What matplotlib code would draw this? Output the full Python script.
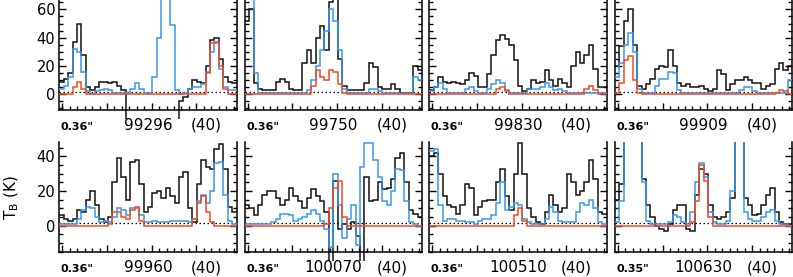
import matplotlib

matplotlib.use("Agg")  # headless
import matplotlib.pyplot as plt
from matplotlib.ticker import MultipleLocator, NullFormatter
from matplotlib.transforms import Bbox, TransformedBbox

plt.rcParams["font.family"] = ["DejaVu Sans"]
plt.rcParams["mathtext.default"] = "regular"

# ---- panel labels (frequency in MHz, beam size, velocity width) ----
freqs = ["99296", "99750", "99830", "99909", "99960", "100070", "100510", "100630"]
beams = ['0.36"', '0.36"', '0.36"', '0.36"', '0.36"', '0.36"', '0.36"', '0.35"']
widths = ["(40)", "(40)", "(40)", "(40)", "(40)", "(40)", "(40)", "(40)"]

# ---- spectra: 40 channels per panel, T_B in K ----
# black = observed, blue = full model, red = species model
obs_99296 = [9, 11, 15, 37, 50, 28, 5, 3, 5, 9, 9, 8, 9, 6, 3, -40, -40, -40, -40, -40,
             -40, -40, -40, -40, -40, -40, -40, -5, -2, 4, 10, 9, 8, 20, 38, 40, 25, 12, 9, 8]
blue_99296 = [4, 6, 12, 32, 30, 16, 2, 0, 2, 3, 4, 3, 1, 1, 1, 1, 4, 8, 4, 1,
              1, 12, 40, 90, 90, 49, 3, 0, 1, 4, 5, 5, 7, 16, 30, 36, 18, 5, 3, 3]
red_99296 = [0, 0, 0, 5, 9, 4, 0, 0, 0, 0, 0, 0, 0, 0, 0, 0, 0, 0, 0, 0,
             0, 0, 0, 0, 0, 0, 0, 0, 0, 0, 0, 0, 0, 15, 36, 37, 20, 4, 0, 0]

obs_99750 = [52, 60, 8, 4, 3, 3, 3, 9, 11, 9, 4, 3, 3, 22, 31, 22, 40, 48, 31, 65,
             70, 25, 6, 3, 3, 3, 3, 8, 22, 19, 5, 4, 4, 7, 4, 1, 1, 1, 20, 17]
blue_99750 = [80, 80, 15, 1, 1, 1, 1, 1, 1, 1, 1, 1, 1, 1, 3, 10, 20, 31, 45, 60,
              52, 31, 4, 1, 1, 1, 1, 1, 4, 4, 2, 1, 1, 1, 1, 1, 1, 1, 12, 10]
red_99750 = [0, 0, 0, 0, 0, 0, 0, 0, 0, 0, 0, 0, 0, 0, 0, 6, 17, 12, 10, 17,
             16, 7, 1, 0, 0, 0, 0, 0, 0, 0, 0, 0, 0, 0, 0, 0, 0, 0, 0, 0]

obs_99830 = [3, 5, 12, 9, 8, 9, 8, 7, 10, 15, 13, 5, 5, 14, 28, 38, 42, 39, 35, 24,
             6, 2, 4, 10, 8, 9, 17, 10, 6, 11, 8, 5, 20, 30, 22, 28, 35, 18, 5, 5]
blue_99830 = [2, 5, 8, 4, 1, 1, 1, 1, 4, 5, 2, 1, 1, 4, 7, 10, 8, 3, 1, 1,
              1, 1, 4, 4, 4, 5, 8, 5, 3, 4, 2, 1, 1, 1, 1, 1, 1, 1, 1, 1]
red_99830 = [0, 0, 0, 0, 0, 0, 0, 0, 0, 0, 0, 0, 0, 0, 0, 4, 5, 2, 0, 0,
             0, 0, 0, 0, 0, 0, 0, 0, 0, 0, 0, 0, 0, 0, 0, 4, 6, 3, 0, 0]

obs_99909 = [20, 34, 52, 60, 35, 6, 4, 7, 11, 18, 20, 19, 31, 20, 8, 6, 7, 5, 5, 6,
             4, 2, 4, 17, 14, 3, 7, 10, 10, 12, 10, 8, 8, 4, 6, 7, 18, 22, 17, 20]
blue_99909 = [12, 22, 35, 43, 30, 4, 1, 1, 1, 6, 11, 11, 16, 15, 3, 1, 1, 1, 1, 1,
              1, 1, 1, 1, 1, 1, 1, 1, 3, 5, 5, 2, 1, 1, 1, 1, 1, 1, 1, 10]
red_99909 = [1, 8, 24, 27, 10, 1, 0, 0, 0, 0, 0, 0, 0, 0, 0, 0, 0, 0, 0, 0,
             0, 0, 0, 0, 0, 0, 0, 0, 0, 0, 0, 0, 0, 0, 0, 0, 1, 3, 2, 0]

obs_99960 = [6, 4, 3, 4, 9, 8, 15, 20, 12, 4, 2, 5, 25, 39, 28, 15, 37, 38, 24, 8,
             11, 19, 20, 16, 22, 17, 13, 28, 31, 10, 2, 24, 38, 34, 33, 44, 47, 33, 11, 8]
blue_99960 = [1, 1, 1, 1, 4, 9, 11, 10, 5, 2, 3, 2, 5, 10, 9, 6, 10, 10, 6, 2,
              2, 3, 2, 2, 2, 3, 3, 3, 3, 2, 4, 14, 18, 13, 20, 36, 37, 18, 3, 1]
red_99960 = [0, 0, 0, 0, 0, 0, 0, 0, 0, 0, 0, 1, 8, 8, 5, 4, 9, 11, 3, 0,
             0, 0, 0, 0, 0, 0, 0, 0, 0, 0, 4, 13, 17, 8, 2, 0, 0, 0, 0, 0]

obs_100070 = [12, 10, 6, 12, 18, 20, 20, 16, 12, 15, 22, 17, 14, 10, 16, 21, 17, 14, 8, -40,
              26, -2, 1, -2, 2, -6, -40, 28, 14, 15, 25, 21, 22, 27, 39, 42, 25, 9, 7, 5]
blue_100070 = [1, 1, 1, 1, 1, 1, 2, 4, 7, 7, 6, 3, 4, 5, 7, 9, 7, 3, -2, -12,
               30, 12, -7, 4, 12, -11, 34, 48, 48, 38, 28, 14, 12, 20, 33, 32, 14, 2, 1, 0]
red_100070 = [0, 0, 0, 0, 0, 0, 0, 0, 0, 0, 0, 0, 0, 0, 0, 0, 0, 0, 1, 10,
              22, 26, 5, 0, 0, 0, 0, 0, 0, 0, 0, 0, 0, 0, 0, 0, 0, 0, 0, 0]

obs_100510 = [40, 42, 30, 17, 12, 11, 7, 12, 24, 22, 6, 11, 14, 15, 15, 25, 33, 17, 9, 30,
              48, 30, 10, 5, 2, 1, 8, 18, 12, 8, 10, 30, 25, 18, 20, 25, 38, 27, 8, 7]
blue_100510 = [43, 44, 12, 3, 4, 4, 3, 3, 2, 2, 1, 3, 4, 4, 6, 13, 25, 9, 11, 13,
               12, 4, 2, 1, 1, 1, 4, 11, 8, 3, 2, 2, 2, 8, 13, 12, 15, 10, 2, 1]
red_100510 = [0, 0, 0, 0, 0, 0, 0, 0, 0, 0, 0, 0, 0, 0, 0, 0, 0, 0, 0, 6,
              10, 3, 0, 0, 0, 0, 0, 0, 0, 0, 0, 0, 0, 0, 0, 0, 0, 0, 0, 0]

obs_100630 = [15, 24, 60, 60, 60, 60, 27, 12, 5, 0, -2, -3, 1, 9, 12, 12, -2, -3, 18, 33,
              30, 12, 5, 4, 5, 8, 16, 60, 60, 16, 12, 6, 7, 12, 18, 22, 8, 2, 1, 1]
blue_100630 = [2, 14, 60, 60, 60, 60, 25, 3, 1, 1, 1, 1, 2, 6, 5, 2, 1, 8, 25, 36,
               28, 8, 2, 1, 1, 3, 20, 60, 60, 8, 4, 3, 3, 5, 8, 9, 3, 1, 1, 0]
red_100630 = [0, 0, 0, 0, 0, 0, 0, 0, 0, 0, 0, 0, 0, 0, 0, 0, 0, 2, 14, 35,
              26, 5, 0, 0, 0, 0, 0, 0, 0, 0, 0, 0, 0, 0, 0, 0, 0, 0, 0, 0]

obs_all = [obs_99296, obs_99750, obs_99830, obs_99909,
           obs_99960, obs_100070, obs_100510, obs_100630]
blue_all = [blue_99296, blue_99750, blue_99830, blue_99909,
            blue_99960, blue_100070, blue_100510, blue_100630]
red_all = [red_99296, red_99750, red_99830, red_99909,
           red_99960, red_100070, red_100510, red_100630]

DOTTED_LEVEL = 1.8          # dotted reference level (K)
X_MIN, X_MAX = -0.4, 23.4   # velocity axis
YLIM_TOP = (-11.1, 66.6)
YLIM_BOT = (-15.3, 48.3)

BLACK = "#111111"
BLUE = "#3797f2"
RED = "#f24a1e"

W, H = 793, 277
fig = plt.figure(figsize=(W / 100, H / 100), dpi=100)

lefts_px = [59.3, 244.7, 429.3, 615.0]
width_px = 177.3
rows_px = [(0.0, 110.0), (142.0, 252.3)]
CLIP_BELOW = 9.0   # lines run a few px below the box

n_chan = len(obs_99296)
step = (X_MAX - X_MIN) / n_chan
edges = [X_MIN + i * step for i in range(n_chan + 1)]

for k in range(8):
    row, col = divmod(k, 4)
    y0, y1 = rows_px[row]
    l = lefts_px[col]
    ax = fig.add_axes([l / W, 1 - y1 / H, width_px / W, (y1 - y0) / H])
    ax.set_xlim(X_MIN, X_MAX)
    ax.set_ylim(YLIM_TOP if row == 0 else YLIM_BOT)

    clip = TransformedBbox(
        Bbox.from_extents(l / W, 1 - (y1 + CLIP_BELOW) / H,
                          (l + width_px) / W, 1 - y0 / H),
        fig.transFigure)

    ax.axhline(DOTTED_LEVEL, color="black", lw=0.9, ls=(0, (1.2, 2.0)), zorder=1)
    for vals, colr, z in ((obs_all[k], BLACK, 2), (blue_all[k], BLUE, 3),
                          (red_all[k], RED, 4)):
        art = ax.stairs(vals, edges, baseline=None, color=colr, lw=1.1, zorder=z)
        art.set_clip_box(clip)

    for side in ("left", "right", "bottom"):
        ax.spines[side].set_linewidth(1.1)
    ax.spines["top"].set_visible(False)

    ax.xaxis.set_major_locator(MultipleLocator(6))
    ax.xaxis.set_minor_locator(MultipleLocator(1))
    ax.yaxis.set_major_locator(MultipleLocator(20))
    ax.yaxis.set_minor_locator(MultipleLocator(5))
    ax.tick_params(which="both", direction="in", top=False, right=True,
                   left=True, bottom=True, width=1.0, labelbottom=False)
    ax.tick_params(which="major", length=5)
    ax.tick_params(which="minor", length=2.6)
    if col == 0:
        ax.tick_params(axis="y", labelsize=10.5, pad=3)
    else:
        ax.yaxis.set_major_formatter(NullFormatter())

    ty = -20.0 / (y1 - y0)
    ax.text(0.008, ty, beams[k], transform=ax.transAxes,
            ha="left", va="baseline", fontsize=8, fontweight="bold")
    ax.text(0.5, ty, freqs[k], transform=ax.transAxes, ha="center",
            va="baseline", fontsize=11)
    ax.text(0.83, ty, widths[k], transform=ax.transAxes, ha="center",
            va="baseline", fontsize=11)

fig.text(0.015, 0.285, "T$_B$ (K)", rotation=90, ha="center", va="center",
         fontsize=11)

fig.savefig("out.png", dpi=100)
